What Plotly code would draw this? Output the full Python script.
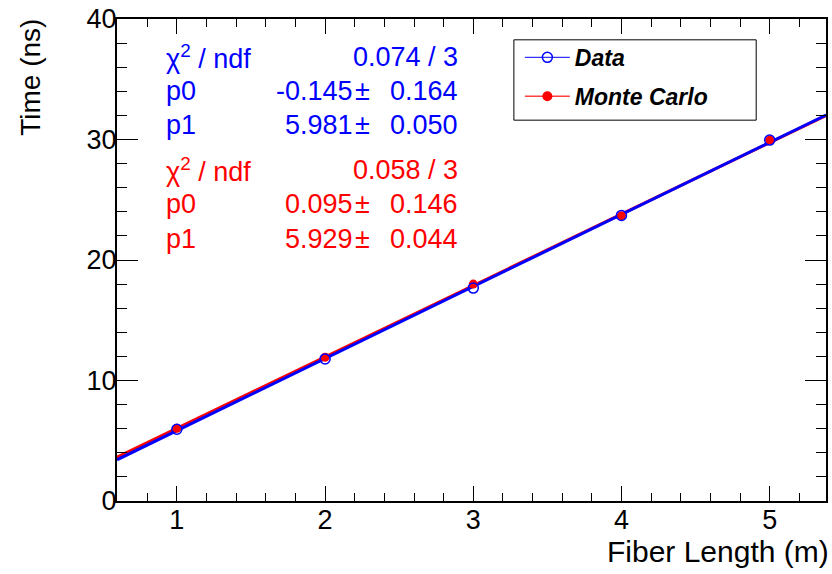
import plotly.graph_objects as go

# ---- data ----
fiber_length = [1, 2, 3, 4, 5]
time_data = [5.95, 11.79, 17.67, 23.70, 29.95]
time_mc = [6.03, 11.93, 18.00, 23.68, 29.95]

fit_data = {"p0": -0.145, "p1": 5.981}
fit_mc = {"p0": 0.095, "p1": 5.929}

stats_data = [("χ<sup>2</sup> / ndf", "0.074 / 3", None),
              ("p0", "-0.145", "0.164"),
              ("p1", "5.981", "0.050")]
stats_mc = [("χ<sup>2</sup> / ndf", "0.058 / 3", None),
            ("p0", "0.095", "0.146"),
            ("p1", "5.929", "0.044")]

x_range = [0.596, 5.38]
y_range = [0, 40]

BLUE = "#0000ff"
RED = "#ff0000"
FONT = "Liberation Sans, Arial, sans-serif"

W, H = 832, 574
L, R, T, B = 117, 828, 15, 501


def px(xp):
    return (xp - L) / (R - L)


def py(yp):
    return (B - yp) / (B - T)


fig = go.Figure()

# fit lines
for fit, col in ((fit_mc, RED), (fit_data, BLUE)):
    fx = list(x_range)
    fy = [fit["p0"] + fit["p1"] * v for v in fx]
    fig.add_trace(go.Scatter(x=fx, y=fy, mode="lines", line=dict(color=col, width=3),
                             showlegend=False, hoverinfo="skip"))

# points
fig.add_trace(go.Scatter(x=fiber_length, y=time_mc, mode="markers",
                         marker=dict(symbol="circle", size=9, color=RED, line=dict(width=0)),
                         showlegend=False))
fig.add_trace(go.Scatter(x=fiber_length, y=time_data, mode="markers",
                         marker=dict(symbol="circle-open", size=10, color=BLUE, line=dict(width=1.5)),
                         showlegend=False))

# legend entries
fig.add_trace(go.Scatter(x=[None], y=[None], mode="lines+markers", name="<b><i>Data</i></b>",
                         line=dict(color=BLUE, width=1),
                         marker=dict(symbol="circle-open", size=10, color=BLUE, line=dict(width=1.5)),
                         legendgroup="a"))
fig.add_trace(go.Scatter(x=[None], y=[None], mode="lines+markers", name="<b><i>Monte Carlo</i></b>",
                         line=dict(color="#ff4040", width=1.5),
                         marker=dict(symbol="circle", size=10, color=RED),
                         legendgroup="b"))

# legend box
fig.add_shape(type="rect", xref="paper", yref="paper",
              x0=px(515), x1=px(758), y0=py(117), y1=py(36),
              line=dict(color="black", width=1), fillcolor="white", layer="below")

annotations = []
row_y = [53, 88, 122, 167, 202, 237]
rows = [(s, BLUE) for s in stats_data] + [(s, RED) for s in stats_mc]
for ((lab, val, err), col), yp in zip(rows, row_y):
    f = dict(family=FONT, size=27, color=col)
    annotations.append(dict(x=px(164), y=py(yp), xref="paper", yref="paper", text=lab,
                            xanchor="left", yanchor="middle", showarrow=False, font=f))
    if err is None:
        annotations.append(dict(x=px(461), y=py(yp), xref="paper", yref="paper", text=val,
                                xanchor="right", yanchor="middle", showarrow=False, font=f))
    else:
        annotations.append(dict(x=px(356), y=py(yp), xref="paper", yref="paper", text=val,
                                xanchor="right", yanchor="middle", showarrow=False, font=f))
        annotations.append(dict(x=px(363), y=py(yp), xref="paper", yref="paper", text="±",
                                xanchor="center", yanchor="middle", showarrow=False, font=f))
        annotations.append(dict(x=px(461), y=py(yp), xref="paper", yref="paper", text=err,
                                xanchor="right", yanchor="middle", showarrow=False, font=f))

annotations.append(dict(x=px(833), y=py(552), xref="paper", yref="paper", text="Fiber Length (m)",
                        xanchor="right", yanchor="middle", showarrow=False,
                        font=dict(family=FONT, size=30, color="black")))
annotations.append(dict(x=px(30), y=py(13), xref="paper", yref="paper", text="Time (ns)",
                        textangle=-90, xanchor="center", yanchor="top", showarrow=False,
                        font=dict(family=FONT, size=28, color="black")))

axis_common = dict(showgrid=False, zeroline=False, showline=True, linecolor="black", linewidth=2,
                   mirror="ticks", ticks="inside", tickcolor="black", tickwidth=1.2,
                   tickfont=dict(family=FONT, size=27, color="black"))

fig.update_layout(
    width=W, height=H,
    margin=dict(l=L, r=W - R, t=T, b=H - B),
    paper_bgcolor="white", plot_bgcolor="white",
    xaxis=dict(range=x_range, dtick=1, tick0=0, ticklen=15, ticklabelstandoff=-6,
               minor=dict(dtick=0.2, tick0=0, ticks="inside", ticklen=8, tickcolor="black", tickwidth=1.2),
               **axis_common),
    yaxis=dict(range=y_range, dtick=10, tick0=0, ticklen=21, ticklabelstandoff=-7,
               minor=dict(dtick=2, tick0=0, ticks="inside", ticklen=10, tickcolor="black", tickwidth=1.2),
               **axis_common),
    showlegend=True,
    legend=dict(x=px(521), y=py(32), xanchor="left", yanchor="top",
                bgcolor="rgba(0,0,0,0)", borderwidth=0,
                font=dict(family=FONT, size=23, color="black"),
                itemwidth=45, tracegroupgap=6, traceorder="grouped"),
    annotations=annotations,
)

fig.write_html("out.html")
